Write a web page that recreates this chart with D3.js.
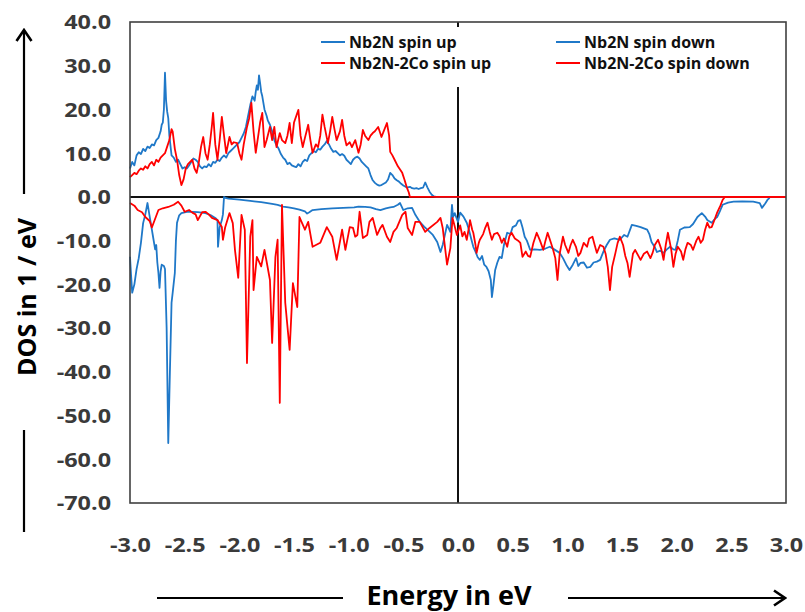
<!DOCTYPE html>
<html><head><meta charset="utf-8">
<script src="https://cdn.jsdelivr.net/npm/d3@7"></script>
<style>body{margin:0;background:#fff}svg{display:block}</style>
</head><body>
<svg id="c" width="805" height="612"></svg>
<script>
// ---------------- data ----------------
const seriesNames = ["Nb2N spin up", "Nb2N spin down", "Nb2N-2Co spin up", "Nb2N-2Co spin down"];
const seriesColors = ["#1f78c8", "#1f78c8", "#ff0000", "#ff0000"];
const xTicks = [-3.0,-2.5,-2.0,-1.5,-1.0,-0.5,0.0,0.5,1.0,1.5,2.0,2.5,3.0];
const yTicks = [40,30,20,10,0,-10,-20,-30,-40,-50,-60,-70];

const nb2nUp = [[-3.00,6.5],[-2.98,8.0],[-2.96,7.2],[-2.94,9.5],[-2.92,10.2],[-2.90,9.8],[-2.88,11.0],[-2.86,10.5],[-2.84,11.5],[-2.82,11.2],[-2.80,12.0],[-2.78,11.8],[-2.76,13.0],[-2.74,13.5],[-2.72,15.0],[-2.71,16.5],[-2.70,17.0],[-2.69,20.0],[-2.68,28.4],[-2.67,22.0],[-2.66,19.5],[-2.65,18.0],[-2.64,14.0],[-2.62,9.5],[-2.60,9.0],[-2.58,8.0],[-2.56,8.5],[-2.54,7.5],[-2.52,6.5],[-2.50,6.8],[-2.48,6.5],[-2.46,7.2],[-2.44,8.0],[-2.42,8.8],[-2.40,8.5],[-2.38,8.0],[-2.36,7.0],[-2.34,6.5],[-2.32,7.0],[-2.30,6.8],[-2.28,7.5],[-2.26,7.0],[-2.24,8.0],[-2.22,7.8],[-2.20,8.5],[-2.18,8.2],[-2.16,9.0],[-2.14,9.5],[-2.12,9.0],[-2.10,10.0],[-2.08,10.5],[-2.06,11.0],[-2.04,11.5],[-2.02,12.0],[-2.00,12.5],[-1.98,13.5],[-1.96,14.5],[-1.94,16.0],[-1.92,18.5],[-1.90,21.0],[-1.88,23.0],[-1.86,22.0],[-1.85,24.0],[-1.84,25.5],[-1.83,24.5],[-1.82,27.8],[-1.81,26.0],[-1.80,24.0],[-1.79,23.0],[-1.77,20.0],[-1.75,18.5],[-1.74,17.5],[-1.72,16.5],[-1.70,15.0],[-1.68,13.0],[-1.66,11.8],[-1.64,11.0],[-1.62,9.8],[-1.60,9.0],[-1.58,8.5],[-1.56,7.5],[-1.54,7.8],[-1.52,7.2],[-1.50,7.0],[-1.48,6.8],[-1.46,7.5],[-1.44,7.0],[-1.42,8.0],[-1.40,8.5],[-1.38,8.2],[-1.36,9.5],[-1.34,10.0],[-1.32,10.5],[-1.30,10.2],[-1.28,11.0],[-1.26,10.8],[-1.24,11.5],[-1.22,12.0],[-1.20,12.8],[-1.18,12.0],[-1.16,11.0],[-1.14,10.3],[-1.12,10.5],[-1.10,10.0],[-1.08,9.5],[-1.06,9.8],[-1.04,9.4],[-1.02,8.5],[-1.00,8.0],[-0.98,7.5],[-0.96,8.5],[-0.94,9.0],[-0.92,9.2],[-0.90,8.8],[-0.88,8.0],[-0.86,7.5],[-0.84,7.0],[-0.82,6.5],[-0.80,5.0],[-0.78,3.8],[-0.76,3.2],[-0.74,2.8],[-0.72,2.6],[-0.70,2.7],[-0.68,3.0],[-0.66,3.3],[-0.64,4.0],[-0.62,5.5],[-0.60,5.0],[-0.58,4.2],[-0.56,3.8],[-0.54,3.5],[-0.52,3.0],[-0.50,2.6],[-0.48,2.3],[-0.46,2.2],[-0.44,2.3],[-0.42,2.0],[-0.40,1.9],[-0.38,2.0],[-0.36,1.8],[-0.34,2.0],[-0.32,2.1],[-0.30,3.3],[-0.28,2.2],[-0.26,1.2],[-0.24,0.5],[-0.22,0.1],[-0.20,0.0],[3.00,0.0]];

const nb2nDown = [[-3.00,-13.7],[-2.99,-18.0],[-2.98,-21.9],[-2.96,-20.0],[-2.94,-16.5],[-2.92,-14.0],[-2.90,-10.5],[-2.88,-6.0],[-2.86,-4.0],[-2.84,-1.4],[-2.82,-4.5],[-2.80,-7.5],[-2.79,-9.0],[-2.77,-12.0],[-2.76,-11.0],[-2.75,-15.0],[-2.74,-17.4],[-2.73,-20.8],[-2.72,-17.0],[-2.71,-15.5],[-2.69,-15.8],[-2.68,-16.5],[-2.665,-30.0],[-2.65,-56.3],[-2.635,-40.0],[-2.62,-24.2],[-2.61,-22.0],[-2.59,-17.4],[-2.58,-10.0],[-2.57,-5.9],[-2.55,-4.2],[-2.53,-3.7],[-2.48,-3.4],[-2.43,-3.4],[-2.38,-3.5],[-2.31,-3.7],[-2.26,-4.2],[-2.22,-4.8],[-2.20,-5.3],[-2.195,-11.4],[-2.18,-7.0],[-2.16,-5.3],[-2.15,-4.0],[-2.14,0.0],[-2.12,-0.3],[-2.10,-0.4],[-2.00,-0.6],[-1.90,-0.9],[-1.80,-1.2],[-1.70,-1.6],[-1.65,-1.8],[-1.60,-2.2],[-1.55,-2.4],[-1.50,-2.6],[-1.45,-2.9],[-1.40,-3.3],[-1.38,-3.8],[-1.36,-3.5],[-1.33,-3.0],[-1.25,-2.8],[-1.15,-2.6],[-1.05,-2.5],[-0.95,-2.4],[-0.91,-2.2],[-0.85,-2.3],[-0.80,-2.4],[-0.75,-2.8],[-0.71,-3.0],[-0.66,-2.6],[-0.62,-2.4],[-0.59,-2.3],[-0.55,-1.8],[-0.53,-1.4],[-0.50,-3.0],[-0.46,-2.6],[-0.42,-2.5],[-0.39,-4.1],[-0.35,-5.7],[-0.31,-6.8],[-0.28,-7.5],[-0.23,-8.7],[-0.19,-10.3],[-0.16,-12.6],[-0.14,-11.0],[-0.10,-6.4],[-0.07,-8.0],[-0.055,-1.8],[-0.045,-4.6],[-0.03,-3.7],[0.00,-5.7],[0.02,-3.6],[0.05,-4.5],[0.08,-5.9],[0.10,-7.5],[0.12,-9.5],[0.14,-11.4],[0.16,-12.5],[0.18,-13.8],[0.20,-14.4],[0.22,-13.5],[0.24,-15.5],[0.26,-16.0],[0.28,-17.0],[0.30,-19.0],[0.31,-22.9],[0.325,-20.0],[0.34,-16.7],[0.36,-15.0],[0.38,-13.7],[0.40,-14.0],[0.42,-11.0],[0.45,-8.2],[0.48,-8.5],[0.50,-6.9],[0.53,-6.5],[0.55,-5.5],[0.57,-5.3],[0.59,-7.0],[0.61,-9.1],[0.63,-10.0],[0.66,-12.1],[0.70,-12.0],[0.75,-12.1],[0.80,-11.8],[0.84,-11.4],[0.88,-12.0],[0.93,-12.8],[0.96,-14.0],[0.99,-15.5],[1.02,-16.7],[1.05,-15.5],[1.08,-14.0],[1.10,-15.8],[1.12,-15.1],[1.15,-15.0],[1.18,-16.2],[1.21,-16.0],[1.24,-15.0],[1.27,-14.8],[1.30,-14.4],[1.33,-12.5],[1.36,-11.0],[1.39,-9.8],[1.43,-9.5],[1.48,-9.8],[1.52,-8.7],[1.55,-9.1],[1.59,-6.4],[1.63,-6.6],[1.67,-6.9],[1.70,-7.2],[1.73,-7.5],[1.75,-8.5],[1.77,-10.3],[1.80,-11.5],[1.82,-12.6],[1.85,-12.3],[1.88,-12.8],[1.91,-12.0],[1.94,-11.4],[1.97,-12.0],[1.99,-12.1],[2.01,-10.0],[2.03,-7.5],[2.07,-7.0],[2.12,-6.9],[2.15,-6.2],[2.19,-4.6],[2.23,-3.7],[2.26,-4.5],[2.28,-5.3],[2.32,-5.9],[2.35,-5.0],[2.37,-4.6],[2.40,-3.0],[2.42,-1.8],[2.47,-1.3],[2.52,-1.1],[2.60,-1.0],[2.70,-1.1],[2.76,-1.4],[2.78,-2.5],[2.81,-1.5],[2.83,-0.7],[2.85,-0.2]];

const coUp = [[-3.00,4.5],[-2.98,5.0],[-2.96,5.5],[-2.94,5.2],[-2.92,6.0],[-2.90,6.5],[-2.88,6.2],[-2.86,7.0],[-2.84,6.5],[-2.82,7.5],[-2.80,8.0],[-2.78,7.2],[-2.76,8.5],[-2.74,8.0],[-2.72,9.0],[-2.70,9.5],[-2.68,10.0],[-2.66,11.5],[-2.64,13.0],[-2.62,15.5],[-2.61,15.0],[-2.59,11.0],[-2.57,8.5],[-2.55,5.0],[-2.53,2.7],[-2.51,4.0],[-2.49,6.5],[-2.47,7.5],[-2.45,8.0],[-2.43,8.5],[-2.41,6.5],[-2.39,5.5],[-2.37,8.0],[-2.35,11.5],[-2.33,13.7],[-2.31,10.0],[-2.29,8.5],[-2.27,12.0],[-2.25,16.5],[-2.24,19.2],[-2.22,12.0],[-2.20,8.5],[-2.18,13.0],[-2.16,18.3],[-2.14,14.0],[-2.12,10.0],[-2.10,12.5],[-2.09,13.7],[-2.07,12.0],[-2.05,12.5],[-2.02,12.3],[-2.00,10.0],[-1.98,8.5],[-1.96,12.0],[-1.93,16.0],[-1.91,18.0],[-1.89,21.5],[-1.87,15.0],[-1.85,10.1],[-1.83,13.5],[-1.81,17.0],[-1.79,19.2],[-1.77,11.4],[-1.75,13.0],[-1.72,16.0],[-1.70,13.0],[-1.68,16.0],[-1.66,11.4],[-1.63,14.6],[-1.61,13.0],[-1.58,12.3],[-1.56,14.0],[-1.54,16.9],[-1.52,12.3],[-1.50,17.0],[-1.46,19.9],[-1.44,14.0],[-1.42,11.4],[-1.40,13.5],[-1.37,16.5],[-1.35,13.0],[-1.33,10.1],[-1.30,12.0],[-1.28,11.4],[-1.26,14.0],[-1.24,18.8],[-1.22,16.0],[-1.19,12.3],[-1.17,15.0],[-1.15,18.3],[-1.13,15.5],[-1.11,13.0],[-1.08,15.0],[-1.06,17.6],[-1.04,14.0],[-1.02,11.8],[-0.99,12.5],[-0.97,11.4],[-0.94,13.0],[-0.91,10.1],[-0.89,12.0],[-0.87,15.3],[-0.85,14.0],[-0.82,13.0],[-0.80,14.0],[-0.78,14.6],[-0.76,15.0],[-0.73,16.0],[-0.71,14.5],[-0.70,13.7],[-0.68,15.0],[-0.65,16.9],[-0.63,14.0],[-0.62,10.3],[-0.60,9.5],[-0.58,8.5],[-0.55,7.0],[-0.51,5.5],[-0.49,4.0],[-0.47,2.3],[-0.45,1.0],[-0.44,0.0],[3.00,0.0]];

const coDown = [[-3.00,-1.4],[-2.96,-2.0],[-2.93,-3.0],[-2.89,-3.5],[-2.86,-4.6],[-2.82,-5.5],[-2.80,-7.0],[-2.77,-5.0],[-2.74,-3.0],[-2.70,-2.6],[-2.65,-2.3],[-2.60,-1.8],[-2.56,-1.1],[-2.53,-2.0],[-2.50,-3.4],[-2.46,-3.0],[-2.43,-3.6],[-2.40,-4.0],[-2.38,-5.3],[-2.34,-3.5],[-2.31,-3.4],[-2.28,-4.0],[-2.25,-4.8],[-2.20,-5.3],[-2.16,-6.9],[-2.15,-9.8],[-2.13,-7.0],[-2.09,-3.7],[-2.06,-6.0],[-2.04,-12.1],[-2.01,-18.5],[-1.98,-4.1],[-1.95,-7.5],[-1.93,-38.0],[-1.90,-9.1],[-1.88,-5.3],[-1.87,-21.3],[-1.84,-13.7],[-1.80,-15.9],[-1.77,-12.1],[-1.72,-19.0],[-1.70,-33.4],[-1.67,-13.7],[-1.65,-9.8],[-1.63,-47.1],[-1.61,-1.8],[-1.58,-24.2],[-1.54,-35.0],[-1.51,-19.7],[-1.47,-25.2],[-1.45,-4.6],[-1.40,-7.5],[-1.37,-5.7],[-1.33,-11.4],[-1.26,-10.5],[-1.20,-6.9],[-1.15,-9.1],[-1.11,-14.4],[-1.06,-7.5],[-1.03,-12.1],[-0.99,-6.9],[-0.96,-7.1],[-0.94,-9.1],[-0.92,-8.7],[-0.90,-3.4],[-0.87,-9.4],[-0.83,-8.7],[-0.81,-5.7],[-0.78,-4.8],[-0.74,-8.7],[-0.71,-7.1],[-0.69,-6.4],[-0.65,-9.1],[-0.62,-10.3],[-0.59,-8.0],[-0.56,-7.1],[-0.51,-4.1],[-0.48,-3.4],[-0.46,-7.1],[-0.42,-8.7],[-0.39,-5.7],[-0.35,-5.7],[-0.30,-8.0],[-0.26,-7.1],[-0.19,-5.7],[-0.16,-4.8],[-0.14,-7.1],[-0.10,-15.5],[-0.07,-11.7],[-0.05,-4.8],[-0.01,-8.7],[0.02,-6.5],[0.04,-9.0],[0.06,-8.0],[0.08,-9.8],[0.10,-7.0],[0.11,-5.3],[0.13,-7.5],[0.14,-8.2],[0.16,-11.0],[0.17,-12.8],[0.19,-10.5],[0.20,-9.8],[0.23,-8.5],[0.25,-7.0],[0.27,-5.9],[0.29,-8.0],[0.31,-9.8],[0.33,-8.5],[0.36,-8.2],[0.38,-9.0],[0.40,-10.5],[0.42,-9.5],[0.45,-11.4],[0.47,-9.0],[0.49,-8.2],[0.52,-9.5],[0.55,-10.0],[0.57,-10.5],[0.59,-13.7],[0.62,-12.5],[0.64,-13.5],[0.66,-13.7],[0.69,-10.5],[0.72,-8.2],[0.75,-10.0],[0.78,-12.1],[0.80,-10.0],[0.82,-8.2],[0.85,-10.5],[0.87,-12.1],[0.89,-14.0],[0.91,-19.0],[0.93,-13.0],[0.96,-9.1],[0.98,-11.0],[1.01,-12.8],[1.03,-11.0],[1.05,-9.8],[1.08,-11.5],[1.10,-13.5],[1.12,-12.8],[1.15,-10.5],[1.18,-11.4],[1.20,-9.5],[1.23,-9.1],[1.25,-11.0],[1.27,-12.8],[1.30,-11.0],[1.33,-11.4],[1.35,-13.0],[1.37,-16.0],[1.39,-21.3],[1.41,-16.0],[1.44,-12.8],[1.46,-10.5],[1.48,-9.1],[1.51,-11.0],[1.53,-13.5],[1.55,-15.1],[1.57,-18.3],[1.60,-13.0],[1.62,-12.1],[1.65,-13.5],[1.67,-14.4],[1.70,-13.0],[1.73,-12.5],[1.76,-14.0],[1.78,-12.8],[1.80,-11.0],[1.83,-9.8],[1.86,-12.0],[1.88,-14.4],[1.90,-11.0],[1.92,-8.2],[1.95,-12.0],[1.97,-16.0],[1.99,-13.0],[2.01,-11.4],[2.04,-12.5],[2.06,-14.4],[2.08,-12.0],[2.10,-10.5],[2.13,-11.0],[2.15,-12.1],[2.18,-10.0],[2.20,-9.1],[2.22,-10.5],[2.24,-9.8],[2.26,-7.5],[2.28,-5.9],[2.30,-7.0],[2.32,-6.9],[2.35,-5.0],[2.37,-3.6],[2.40,-2.0],[2.42,-0.7],[2.44,0.0],[3.00,0.0]];

const allSeries = [nb2nUp, nb2nDown, coUp, coDown];

// ---------------- drawing ----------------
const svg = d3.select("#c");
const L = 130, R = 786, T = 22, B = 503;
const x = d3.scaleLinear().domain([-3, 3]).range([L, R]);
const y = d3.scaleLinear().domain([-70, 40]).range([B, T]);
const fmt = d => d.toFixed(1);
const FONT = "'Open Sans', sans-serif";
const TXT = "#3a3a3a";

svg.append("defs").append("marker").attr("id","arr").attr("viewBox","0 0 18 18")
  .attr("refX",16).attr("refY",9).attr("markerWidth",18).attr("markerHeight",18)
  .attr("markerUnits","userSpaceOnUse").attr("orient","auto")
  .append("path").attr("d","M5,1.5 L16,9 L5,16.5").attr("fill","none").attr("stroke","#000")
  .attr("stroke-width",2.6).attr("stroke-linejoin","miter");

// zero lines
svg.append("line").attr("x1", x(-3)).attr("x2", x(3)).attr("y1", y(0)).attr("y2", y(0))
  .attr("stroke", "#111").attr("stroke-width", 2);
svg.append("line").attr("x1", x(0)).attr("x2", x(0)).attr("y1", y(40)).attr("y2", y(-70))
  .attr("stroke", "#111").attr("stroke-width", 2);

// series
const line = d3.line().x(d => x(d[0])).y(d => y(d[1]));
allSeries.forEach((s, i) => {
  svg.append("path").datum(s).attr("d", line).attr("fill", "none")
    .attr("stroke", seriesColors[i]).attr("stroke-width", 1.8).attr("stroke-linejoin", "round");
});

// plot border
svg.append("rect").attr("x", L).attr("y", T).attr("width", R - L).attr("height", B - T)
  .attr("fill", "none").attr("stroke", "#404040").attr("stroke-width", 1.6);

// axes (labels only)
const yAxis = svg.append("g").attr("transform", `translate(${L - 19},0)`)
  .call(d3.axisLeft(y).tickValues(yTicks).tickFormat(fmt).tickSize(0));
yAxis.select(".domain").remove();
yAxis.selectAll("text").attr("font-family", FONT).attr("font-weight", 700)
  .attr("font-size", 19.5).attr("fill", TXT).attr("dy", "0.35em").attr("x", 0)
  .attr("transform", "scale(1.2,1)");

const xAxis = svg.append("g").attr("transform", `translate(0,${B + 42})`)
  .call(d3.axisBottom(x).tickValues(xTicks).tickFormat(fmt).tickSize(0));
xAxis.select(".domain").remove();
xAxis.selectAll("text").attr("font-family", FONT).attr("font-weight", 700)
  .attr("font-size", 19.5).attr("fill", TXT).attr("dy", "0.35em").attr("y", 0)
  .attr("transform", "scale(1.2,1)");

// legend
const leg = svg.append("g");
leg.append("rect").attr("x", 312).attr("y", 27).attr("width", 462).attr("height", 60).attr("fill", "#fff");
const legPos = [[321, 42], [556, 42], [321, 63], [556, 63]];
seriesNames.forEach((n, i) => {
  const [lx, ly] = legPos[i];
  leg.append("line").attr("x1", lx).attr("x2", lx + 24).attr("y1", ly).attr("y2", ly)
    .attr("stroke", seriesColors[i]).attr("stroke-width", 2);
  leg.append("text").attr("x", lx + 28).attr("y", ly).attr("dy", "0.35em")
    .attr("font-family", FONT).attr("font-weight", 700).attr("font-size", 16)
    .attr("fill", "#111").text(n);
});

// axis titles with arrows
svg.append("text").attr("transform", "translate(27,297) rotate(-90)")
  .attr("text-anchor", "middle").attr("dy", "0.35em")
  .attr("font-family", FONT).attr("font-weight", 700).attr("font-size", 25).attr("fill", "#000")
  .text("DOS in 1 / eV");
svg.append("line").attr("x1", 24).attr("x2", 24).attr("y1", 194).attr("y2", 30)
  .attr("stroke", "#000").attr("stroke-width", 2.2).attr("marker-end", "url(#arr)");
svg.append("line").attr("x1", 24).attr("x2", 24).attr("y1", 430).attr("y2", 532)
  .attr("stroke", "#000").attr("stroke-width", 2.2);

svg.append("text").attr("x", 449).attr("y", 596).attr("text-anchor", "middle").attr("dy", "0.35em")
  .attr("font-family", FONT).attr("font-weight", 700).attr("font-size", 27).attr("fill", "#000")
  .text("Energy in eV");
svg.append("line").attr("x1", 157).attr("x2", 343).attr("y1", 598).attr("y2", 598)
  .attr("stroke", "#000").attr("stroke-width", 2.2);
svg.append("line").attr("x1", 568).attr("x2", 785).attr("y1", 598).attr("y2", 598)
  .attr("stroke", "#000").attr("stroke-width", 2.2).attr("marker-end", "url(#arr)");
</script>
</body></html>
